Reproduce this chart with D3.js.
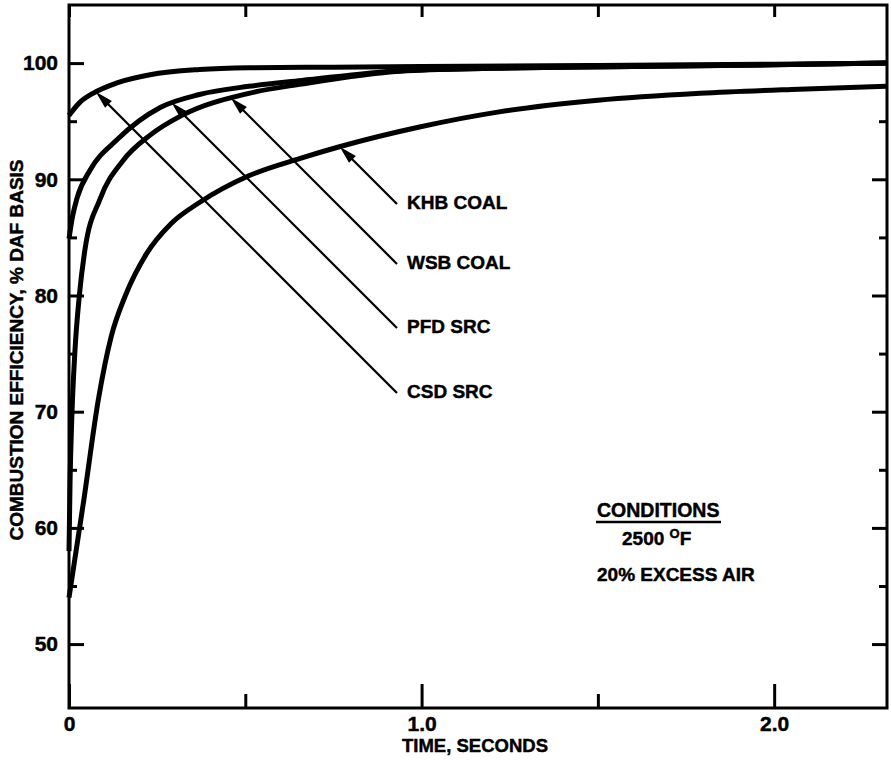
<!DOCTYPE html>
<html>
<head>
<meta charset="utf-8">
<script src="https://cdn.jsdelivr.net/npm/d3@7"></script>
<style>
  html, body { margin: 0; padding: 0; background: #fff; }
  svg text { font-family: "Liberation Sans", Arial, Helvetica, sans-serif; font-weight: bold; fill: #000; stroke: #000; stroke-width: 0.45px; }
</style>
</head>
<body>
<script>
// Combustion efficiency vs. residence time, 2500 °F, 20% excess air
const csdTime = [0, 0.03, 0.068, 0.136, 0.23, 0.37, 0.51, 0.75, 1.0, 1.5, 2.0, 2.32];
const csdEff  = [95.5, 96.6, 97.4, 98.3, 99.0, 99.45, 99.6, 99.65, 99.7, 99.8, 99.9, 100.0];

const pfdTime = [0, 0.01, 0.023, 0.06, 0.136, 0.26, 0.37, 0.51, 0.66, 0.94, 1.2, 1.6, 2.0, 2.32];
const pfdEff  = [84.9, 86.8, 88.4, 90.8, 93.4, 96.2, 97.3, 98.0, 98.5, 99.35, 99.55, 99.7, 99.85, 100.0];

const wsbTime = [0, 0.003, 0.008, 0.017, 0.03, 0.045, 0.088, 0.153, 0.23, 0.32, 0.51, 0.66, 0.94, 1.2, 1.6, 2.0, 2.32];
const wsbEff  = [58, 64, 69.5, 75.3, 80.2, 83.9, 88.3, 91.6, 93.8, 95.5, 97.4, 98.2, 99.3, 99.55, 99.7, 99.85, 100.0];

const khbTime = [0, 0.042, 0.083, 0.12, 0.16, 0.22, 0.29, 0.37, 0.51, 0.656, 0.767, 0.994, 1.22, 1.5, 1.79, 2.07, 2.32];
const khbEff  = [54, 62.4, 71, 76.5, 80, 83.6, 86.2, 88.0, 90.3, 91.8, 92.8, 94.5, 95.8, 96.8, 97.4, 97.75, 98.0];

const seriesNames = ["KHB COAL", "WSB COAL", "PFD SRC", "CSD SRC"];

const yMajorTicks = [50, 60, 70, 80, 90, 100];
const yMinorTicks = [55, 65, 75, 85, 95];
const xMajorTicks = [0, 1.0, 2.0];
const xMinorTicks = [0.5, 1.5];
const xTickLabels = ["0", "1.0", "2.0"];

const conditionsTitle = "CONDITIONS";
const conditionTemp = "2500";
const conditionAir = "20% EXCESS AIR";

const W = 891, H = 760;
const plot = { left: 69, right: 887, top: 5, bottom: 708 };

const x = d3.scaleLinear().domain([0, 2.32]).range([plot.left, plot.right]);
const y = d3.scaleLinear().domain([44.5, 105]).range([plot.bottom, plot.top]);

const svg = d3.select("body").append("svg")
  .attr("width", W).attr("height", H)
  .attr("viewBox", `0 0 ${W} ${H}`);

// ---- axes (ticks point into the plot on all four sides) ----
function styleAxis(g) {
  g.select(".domain").remove();
  g.selectAll("line").attr("stroke", "#000").attr("stroke-width", 3);
  g.selectAll("text").attr("font-size", 21).attr("fill", "#000")
    .style("font-family", "'Liberation Sans', Arial, sans-serif").style("font-weight", "bold");
}

svg.append("g").attr("transform", `translate(${plot.left},0)`)
  .call(d3.axisLeft(y).tickValues(yMajorTicks).tickSizeInner(-15).tickSizeOuter(0).tickPadding(11).tickFormat(d3.format("d")))
  .call(styleAxis);
svg.append("g").attr("transform", `translate(${plot.left},0)`)
  .call(d3.axisLeft(y).tickValues(yMinorTicks).tickSizeInner(-8).tickSizeOuter(0).tickFormat(""))
  .call(styleAxis);
svg.append("g").attr("transform", `translate(${plot.right},0)`)
  .call(d3.axisRight(y).tickValues(yMajorTicks).tickSizeInner(-15).tickSizeOuter(0).tickFormat(""))
  .call(styleAxis);
svg.append("g").attr("transform", `translate(${plot.right},0)`)
  .call(d3.axisRight(y).tickValues(yMinorTicks).tickSizeInner(-8).tickSizeOuter(0).tickFormat(""))
  .call(styleAxis);

svg.append("g").attr("transform", `translate(0,${plot.bottom})`)
  .call(d3.axisBottom(x).tickValues(xMajorTicks).tickSizeInner(-24).tickSizeOuter(0).tickPadding(8)
    .tickFormat((d, i) => xTickLabels[i]))
  .call(styleAxis);
svg.append("g").attr("transform", `translate(0,${plot.bottom})`)
  .call(d3.axisBottom(x).tickValues(xMinorTicks).tickSizeInner(-14).tickSizeOuter(0).tickFormat(""))
  .call(styleAxis);
svg.append("g").attr("transform", `translate(0,${plot.top})`)
  .call(d3.axisTop(x).tickValues(xMajorTicks.concat(xMinorTicks)).tickSizeInner(-12).tickSizeOuter(0).tickFormat(""))
  .call(styleAxis);

// plot frame
svg.append("rect")
  .attr("x", plot.left).attr("y", plot.top)
  .attr("width", plot.right - plot.left).attr("height", plot.bottom - plot.top)
  .attr("fill", "none").attr("stroke", "#000").attr("stroke-width", 3);

// axis titles
svg.append("text")
  .attr("x", 475).attr("y", 752)
  .attr("text-anchor", "middle").attr("font-size", 18.5)
  .text("TIME, SECONDS");

svg.append("text")
  .attr("transform", "translate(23,350) rotate(-90)")
  .attr("text-anchor", "middle").attr("font-size", 19)
  .text("COMBUSTION EFFICIENCY, % DAF BASIS");

// ---- curves ----
const line = d3.line()
  .x(d => x(d[0]))
  .y(d => y(d[1]))
  .curve(d3.curveMonotoneX);

const series = [
  { name: seriesNames[0], t: khbTime, v: khbEff, label: [407, 209] },
  { name: seriesNames[1], t: wsbTime, v: wsbEff, label: [407, 269] },
  { name: seriesNames[2], t: pfdTime, v: pfdEff, label: [407, 333] },
  { name: seriesNames[3], t: csdTime, v: csdEff, label: [407, 398] }
];

const curveG = svg.append("g");
series.forEach(s => {
  s.path = curveG.append("path")
    .datum(s.t.map((t, i) => [t, s.v[i]]))
    .attr("fill", "none")
    .attr("stroke", "#000")
    .attr("stroke-width", 5)
    .attr("stroke-linejoin", "round")
    .attr("stroke-linecap", "butt")
    .attr("d", line);
});

// ---- labels with 45° leader lines ending in an arrowhead on the curve ----
const annG = svg.append("g");
series.forEach(s => {
  const [lx, ly] = s.label;
  const ex = lx - 10, ey = ly - 5;      // leader end beside the label
  const c = ex - ey;                    // points on the leader satisfy px - py = c
  const node = s.path.node();
  const len = node.getTotalLength();
  let prev = null, tip = null;
  for (let l = 0; l <= len; l += 0.5) {
    const p = node.getPointAtLength(l);
    const f = (p.x - p.y) - c;
    if (prev && prev.f <= 0 && f > 0) {
      const k = prev.f / (prev.f - f);
      tip = { x: prev.x + k * (p.x - prev.x), y: prev.y + k * (p.y - prev.y) };
      break;
    }
    prev = { x: p.x, y: p.y, f };
  }
  if (!tip) tip = { x: ex - 60, y: ey - 60 };

  const u = [Math.SQRT1_2, Math.SQRT1_2];
  const n = [-Math.SQRT1_2, Math.SQRT1_2];
  const headLen = 18, headHalf = 4.8;
  const bx = tip.x + u[0] * headLen, by = tip.y + u[1] * headLen;

  annG.append("line")
    .attr("x1", tip.x + u[0] * 6).attr("y1", tip.y + u[1] * 6)
    .attr("x2", ex).attr("y2", ey)
    .attr("stroke", "#000").attr("stroke-width", 2.2);

  annG.append("path")
    .attr("d", `M${tip.x},${tip.y} L${bx + n[0] * headHalf},${by + n[1] * headHalf} L${bx - n[0] * headHalf},${by - n[1] * headHalf} Z`)
    .attr("fill", "#000");

  annG.append("text")
    .attr("x", lx).attr("y", ly)
    .attr("font-size", 19)
    .text(s.name);
});

// ---- conditions note ----
const cond = svg.append("g");
cond.append("text").attr("x", 597).attr("y", 517).attr("font-size", 19.5).text(conditionsTitle);
cond.append("line").attr("x1", 596).attr("x2", 721).attr("y1", 522).attr("y2", 522)
  .attr("stroke", "#000").attr("stroke-width", 2.5);
const temp = cond.append("text").attr("x", 622).attr("y", 545).attr("font-size", 19);
temp.append("tspan").text(conditionTemp + " ");
temp.append("tspan").attr("font-size", 13).attr("dy", -7).text("O");
temp.append("tspan").attr("dy", 7).text("F");
cond.append("text").attr("x", 597).attr("y", 581).attr("font-size", 19).text(conditionAir);
</script>
</body>
</html>
